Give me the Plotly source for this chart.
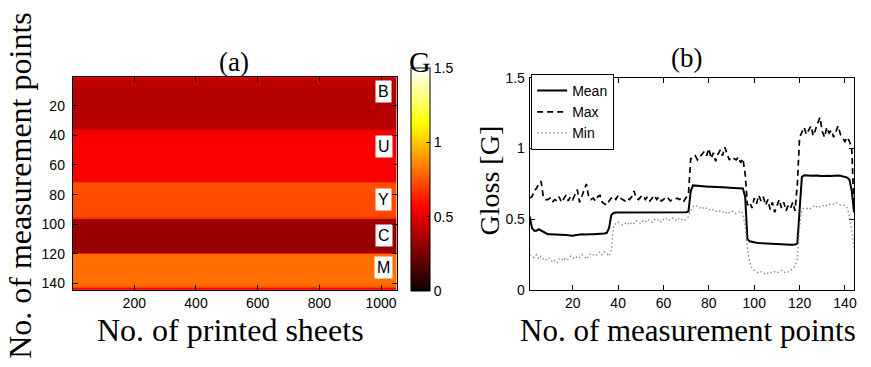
import plotly.graph_objects as go

# ---------------- data ----------------
N_SHEETS = 1050
POINTS = list(range(1, 145))

MEAN = [
    0.52, 0.44, 0.42, 0.42, 0.43, 0.42, 0.41, 0.40, 0.395, 0.395,
    0.395, 0.395, 0.395, 0.395, 0.39, 0.39, 0.39, 0.388, 0.386, 0.385,
    0.388, 0.392, 0.395, 0.395, 0.393, 0.395, 0.396, 0.395, 0.394, 0.395,
    0.395, 0.396, 0.398, 0.40, 0.405, 0.44, 0.53, 0.545, 0.548, 0.548,
    0.548, 0.549, 0.549, 0.548, 0.549, 0.55, 0.55, 0.549, 0.549, 0.55,
    0.55, 0.55, 0.549, 0.55, 0.55, 0.551, 0.55, 0.55, 0.549, 0.55,
    0.55, 0.55, 0.551, 0.55, 0.55, 0.55, 0.549, 0.55, 0.55, 0.55,
    0.555, 0.70, 0.74, 0.738, 0.736, 0.735, 0.734, 0.733, 0.732, 0.731,
    0.73, 0.73, 0.729, 0.728, 0.727, 0.726, 0.725, 0.725, 0.724, 0.723,
    0.722, 0.722, 0.721, 0.72, 0.718, 0.66, 0.36, 0.345, 0.34, 0.337,
    0.335, 0.333, 0.332, 0.33, 0.328, 0.327, 0.325, 0.324, 0.323, 0.322,
    0.32, 0.32, 0.32, 0.319, 0.32, 0.32, 0.321, 0.322, 0.33, 0.60,
    0.80, 0.812, 0.813, 0.81, 0.808, 0.81, 0.812, 0.81, 0.807, 0.805,
    0.806, 0.808, 0.806, 0.807, 0.808, 0.81, 0.81, 0.808, 0.805, 0.80,
    0.795, 0.78, 0.70, 0.55,
]

MAX = [
    0.65, 0.66, 0.70, 0.72, 0.75, 0.77, 0.66, 0.64, 0.64, 0.65,
    0.62, 0.64, 0.63, 0.66, 0.62, 0.65, 0.67, 0.63, 0.66, 0.64,
    0.68, 0.71, 0.62, 0.66, 0.71, 0.75, 0.66, 0.64, 0.65, 0.63,
    0.66, 0.67, 0.62, 0.61, 0.60, 0.63, 0.65, 0.66, 0.64, 0.67,
    0.65, 0.64, 0.63, 0.65, 0.64, 0.66, 0.70, 0.65, 0.64, 0.66,
    0.67, 0.64, 0.66, 0.63, 0.65, 0.67, 0.64, 0.66, 0.63, 0.64,
    0.66, 0.65, 0.63, 0.64, 0.64, 0.65, 0.64, 0.65, 0.63, 0.66,
    0.68, 0.93, 0.93, 0.95, 0.92, 0.94, 0.96, 0.98, 0.95, 1.00,
    0.93, 0.97, 0.91, 0.96, 0.99, 0.95, 1.01, 0.97, 0.92, 0.94,
    0.93, 0.92, 0.94, 0.90, 0.93, 0.82, 0.60, 0.62, 0.58, 0.65,
    0.61, 0.67, 0.63, 0.66, 0.60, 0.64, 0.57, 0.62, 0.55, 0.60,
    0.64, 0.58, 0.62, 0.56, 0.60, 0.58, 0.62, 0.56, 0.75, 1.08,
    1.12, 1.15, 1.10, 1.13, 1.16, 1.09, 1.14, 1.18, 1.22, 1.12,
    1.08, 1.15, 1.11, 1.13, 1.08, 1.12, 1.16, 1.10, 1.07, 1.05,
    1.08, 1.05, 1.00, 0.57,
]

MIN = [
    0.25, 0.24, 0.23, 0.25, 0.22, 0.24, 0.22, 0.21, 0.23, 0.22,
    0.20, 0.21, 0.19, 0.22, 0.21, 0.23, 0.21, 0.22, 0.24, 0.23,
    0.22, 0.24, 0.23, 0.25, 0.24, 0.22, 0.24, 0.26, 0.25, 0.24,
    0.26, 0.27, 0.25, 0.27, 0.26, 0.24, 0.28, 0.46, 0.47, 0.48,
    0.47, 0.46, 0.47, 0.48, 0.46, 0.48, 0.47, 0.49, 0.48, 0.47,
    0.49, 0.48, 0.50, 0.49, 0.48, 0.50, 0.49, 0.50, 0.48, 0.50,
    0.51, 0.49, 0.50, 0.51, 0.50, 0.49, 0.51, 0.50, 0.49, 0.50,
    0.52, 0.56, 0.59, 0.60, 0.59, 0.58, 0.59, 0.57, 0.58, 0.57,
    0.56, 0.57, 0.56, 0.55, 0.56, 0.55, 0.56, 0.54, 0.55, 0.56,
    0.55, 0.54, 0.55, 0.56, 0.54, 0.45, 0.30, 0.20, 0.15, 0.14,
    0.13, 0.12, 0.13, 0.12, 0.11, 0.12, 0.13, 0.12, 0.13, 0.12,
    0.13, 0.14, 0.13, 0.12, 0.13, 0.14, 0.15, 0.17, 0.22, 0.45,
    0.57, 0.58, 0.58, 0.57, 0.58, 0.59, 0.60, 0.58, 0.59, 0.60,
    0.59, 0.60, 0.61, 0.60, 0.61, 0.62, 0.61, 0.60, 0.60, 0.60,
    0.58, 0.52, 0.42, 0.30,
]

BAND_LABELS = ["B", "U", "Y", "C", "M"]
BAND_LABEL_ROWS = [10.5, 47.5, 83, 107.5, 129]

X_TICKS_A = [200, 400, 600, 800, 1000]
Y_TICKS_A = [20, 40, 60, 80, 100, 120, 140]
X_TICKS_B = [20, 40, 60, 80, 100, 120, 140]
Y_TICKS_B = [0, 0.5, 1, 1.5]
Y_TICKTEXT_B = ["0", "0.5", "1", "1.5"]
CB_TICKS = [0, 0.5, 1, 1.5]
CB_TICKTEXT = ["0", "0.5", "1", "1.5"]

assert len(MEAN) == len(MAX) == len(MIN) == len(POINTS) == 144

# ---------------- figure ----------------
W, H = 871, 367
def px(x):
    return x / W
def py(y):
    return 1 - y / H

SERIF = "Liberation Serif"
SANS = "Liberation Sans"

HOT = [[0.0, "rgb(10,0,0)"], [0.375, "rgb(255,0,0)"],
       [0.75, "rgb(255,255,0)"], [1.0, "rgb(255,255,255)"]]

fig = go.Figure()

fig.add_trace(go.Heatmap(
    z=[[v] for v in MEAN],
    x=[0.5, N_SHEETS + 0.5],
    y=POINTS,
    colorscale=HOT, zmin=0, zmax=1.5,
    xaxis="x", yaxis="y",
    hoverinfo="skip",
    colorbar=dict(
        x=px(412), xanchor="left", y=py(296), yanchor="bottom",
        thickness=19, thicknessmode="pixels",
        len=223, lenmode="pixels",
        outlinewidth=1, outlinecolor="black",
        tickvals=CB_TICKS, ticktext=CB_TICKTEXT,
        ticks="inside", ticklen=4, tickcolor="black",
        tickfont=dict(family=SANS, size=14, color="black"),
        xpad=0, ypad=0,
    ),
))

fig.add_trace(go.Scatter(x=POINTS, y=MEAN, name="Mean", mode="lines",
                         line=dict(color="black", width=2),
                         xaxis="x2", yaxis="y2"))
fig.add_trace(go.Scatter(x=POINTS, y=MAX, name="Max", mode="lines",
                         line=dict(color="black", width=1.7, dash="6px,4px"),
                         xaxis="x2", yaxis="y2"))
fig.add_trace(go.Scatter(x=POINTS, y=MIN, name="Min", mode="lines",
                         line=dict(color="#8c8c8c", width=1.4, dash="1.5px,2.5px"),
                         xaxis="x2", yaxis="y2"))

axis_common = dict(showgrid=False, zeroline=False, showline=True,
                   linecolor="black", linewidth=1, mirror="allticks",
                   ticks="inside", ticklen=5, tickcolor="black",
                   tickfont=dict(family=SANS, size=14, color="black"),
                   layer="above traces")

annotations = []
for lab, row in zip(BAND_LABELS, BAND_LABEL_ROWS):
    annotations.append(dict(
        x=1008, y=row, xref="x", yref="y", text=lab, showarrow=False,
        font=dict(family=SANS, size=16, color="black"),
        bgcolor="white", borderpad=2, xanchor="center", yanchor="middle"))

def txt(x, y, text, size, angle=0, family=SERIF, xa="center", ya="middle"):
    annotations.append(dict(x=px(x), y=py(y), xref="paper", yref="paper",
                            text=text, showarrow=False, textangle=angle,
                            font=dict(family=family, size=size, color="black"),
                            xanchor=xa, yanchor=ya))

txt(235, 56, "(a)", 27)
txt(689, 52, "(b)", 27)
txt(231, 337, "No. of printed sheets", 32)
txt(690, 337, "No. of measurement points", 31)
txt(20, 185, "No. of measurement points", 32, angle=-90)
txt(491, 180, "Gloss [G]", 28, angle=-90)
txt(421, 56, "G", 30)

fig.update_layout(
    width=W, height=H,
    margin=dict(l=0, r=0, t=0, b=0),
    paper_bgcolor="white", plot_bgcolor="white",
    showlegend=True,
    legend=dict(x=px(533), y=py(69), xanchor="left", yanchor="top",
                bgcolor="white", bordercolor="black", borderwidth=1,
                font=dict(family=SANS, size=14, color="black"),
                tracegroupgap=0, itemwidth=30),
    xaxis=dict(domain=[px(73), px(398)], range=[0.5, N_SHEETS + 0.5],
               tickvals=X_TICKS_A, anchor="y", ticklabelstandoff=0,
               **axis_common),
    yaxis=dict(domain=[py(295), py(72)], range=[144.5, 0.5],
               tickvals=Y_TICKS_A, anchor="x", ticklabelstandoff=4,
               **axis_common),
    xaxis2=dict(domain=[px(531.5), px(857)], range=[1, 144],
                tickvals=X_TICKS_B, anchor="y2", ticklabelstandoff=0,
                **axis_common),
    yaxis2=dict(domain=[py(295), py(73)], range=[0, 1.5],
                tickvals=Y_TICKS_B, ticktext=Y_TICKTEXT_B, anchor="x2",
                ticklabelstandoff=1, **axis_common),
    annotations=annotations,
)

fig.write_html("out.html")
